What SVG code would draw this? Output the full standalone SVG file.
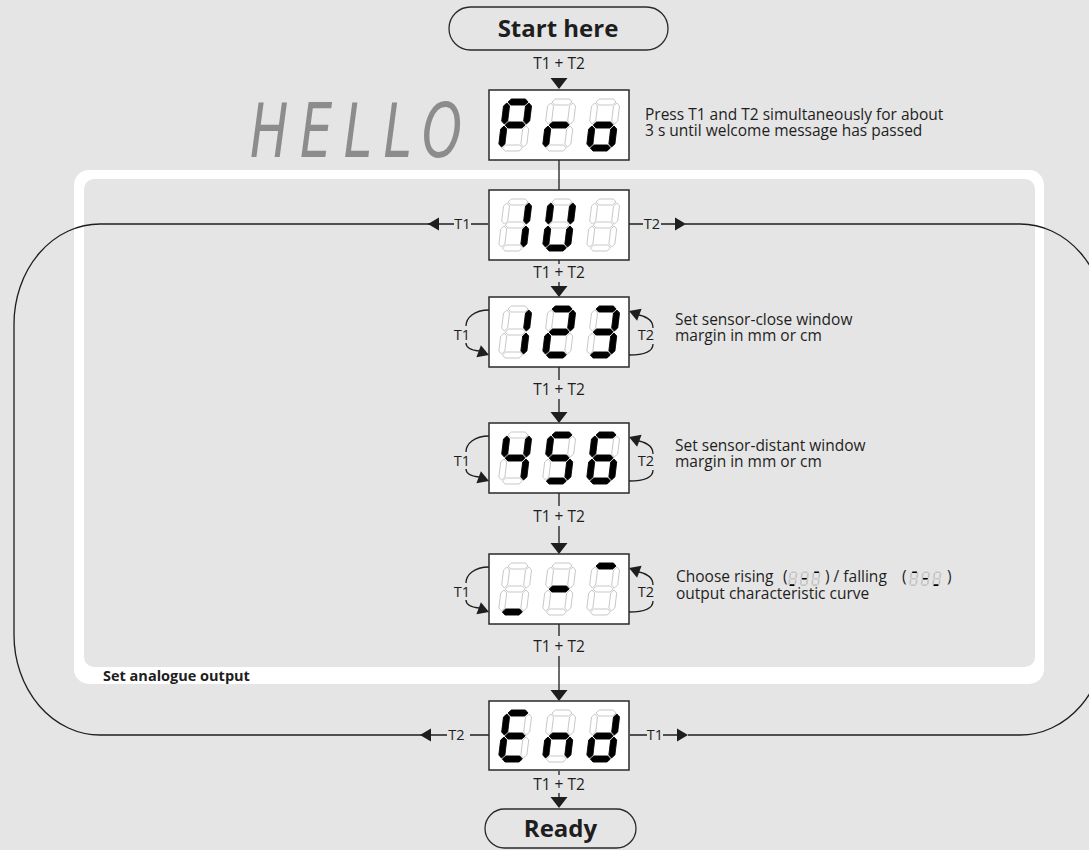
<svg xmlns="http://www.w3.org/2000/svg" xmlns:xlink="http://www.w3.org/1999/xlink" width="1089" height="850" viewBox="0 0 1089 850">
<defs>
<style>
.t{font-family:"Open Sans","Noto Sans","DejaVu Sans",sans-serif;fill:#1e1e1e}
.desc{font-size:15.5px}
.lbl{font-size:15.5px;text-anchor:middle}
.sl{font-size:14.5px;text-anchor:middle}
.bold{font-weight:700}
.ln{stroke:#1e1e1e;stroke-width:1.3;fill:none}
.box{fill:#fff;stroke:#2a2a2a;stroke-width:1.5}
.pill{fill:#e5e5e5;stroke:#2a2a2a;stroke-width:1.3}
.ah{fill:#1e1e1e}
.on{fill:#000;stroke:#000;stroke-width:0.8;stroke-linejoin:round}
.off{fill:#fff;stroke:#c2c2c2;stroke-width:0.9}
.mon{fill:#000}
.moff{fill:#c4c4c4}
</style>
<polygon id="sa" points="4,-49 7,-52 21,-52 24,-49 21,-46 7,-46"/>
<polygon id="sg" points="4,-26 7,-29 21,-29 24,-26 21,-23 7,-23"/>
<polygon id="sd" points="4,-3 7,-6 21,-6 24,-3 21,0 7,0"/>
<polygon id="sf" points="3,-48 6,-45 6,-30 3,-27 0,-30 0,-45"/>
<polygon id="sb" points="25,-48 28,-45 28,-30 25,-27 22,-30 22,-45"/>
<polygon id="se" points="3,-25 6,-22 6,-7 3,-4 0,-7 0,-22"/>
<polygon id="sc" points="25,-25 28,-22 28,-7 25,-4 22,-7 22,-22"/>
<g id="d8"><use href="#sa"/><use href="#sb"/><use href="#sc"/><use href="#sd"/><use href="#se"/><use href="#sf"/><use href="#sg"/></g>
<path id="aD" d="M-8.5,-11H8.5L0,0Z"/>
<path id="aL" d="M0,0L11,-6.5V6.5Z"/>
<path id="aR" d="M0,0L-11,-6.5V6.5Z"/>
</defs>

<rect width="1089" height="850" fill="#e5e5e5"/>

<g id="frame">
<rect x="74" y="170" width="970" height="514" rx="15" fill="#fff"/>
<rect x="84" y="179" width="951" height="488" rx="10" fill="#e5e5e5"/>
<text class="t bold" x="103" y="681" font-size="14.5">Set analogue output</text>
</g>

<g id="connectors">
<g class="ln">
<path d="M559,160V190"/>
<path d="M559,260V264M559,282V287"/>
<path d="M559,367V380M559,399V413"/>
<path d="M559,493V506M559,526V543"/>
<path d="M559,624V636M559,656V690"/>
<path d="M559,771V775M559,793V797"/>
<path d="M471,224H488M428,224H454"/>
<path d="M438,224H100A86,100 0 0 0 14,324V635A86,100 0 0 0 100,735H430"/>
<path d="M430,735H447M470,735H489"/>
<path d="M629,224H643M661,224H676"/>
<path d="M685,224H1020A86,100 0 0 1 1106,324V635A86,100 0 0 1 1020,735H688"/>
<path d="M630,735H647M663,735H678"/>
</g>
<g class="ah">
<use href="#aD" transform="translate(559,89)"/>
<use href="#aD" transform="translate(559,297)"/>
<use href="#aD" transform="translate(559,423)"/>
<use href="#aD" transform="translate(559,554)"/>
<use href="#aD" transform="translate(559,701)"/>
<use href="#aD" transform="translate(559,808)"/>
<use href="#aL" transform="translate(428,224)"/>
<use href="#aR" transform="translate(686,224)"/>
<use href="#aL" transform="translate(420,735)"/>
<use href="#aR" transform="translate(688,735)"/>
</g>
<text class="t lbl" x="559" y="69">T1 + T2</text>
<text class="t lbl" x="559" y="278">T1 + T2</text>
<text class="t lbl" x="559" y="395">T1 + T2</text>
<text class="t lbl" x="559" y="522">T1 + T2</text>
<text class="t lbl" x="559" y="652">T1 + T2</text>
<text class="t lbl" x="559" y="790">T1 + T2</text>
<text class="t sl" x="462.5" y="229">T1</text>
<text class="t sl" x="652" y="229">T2</text>
<text class="t sl" x="456.5" y="740">T2</text>
<text class="t sl" x="655" y="740">T1</text>
<g id="loops123">
<path class="ln" d="M489,310C474,310 466,318 466,326M466,343C466,347 470,350 479,351"/>
<path class="ln" d="M639,315C648,317 653,322 653,328M653,344C653,351 646,355 629,355"/>
<use class="ah" href="#aR" transform="translate(489,355) rotate(20)"/>
<use class="ah" href="#aL" transform="translate(629,311) rotate(20)"/>
<text class="t sl" x="462" y="340">T1</text>
<text class="t sl" x="646" y="340">T2</text>
</g>
<g id="loops456">
<path class="ln" d="M489,436C474,436 466,444 466,452M466,469C466,473 470,476 479,477"/>
<path class="ln" d="M639,441C648,443 653,448 653,454M653,470C653,477 646,481 629,481"/>
<use class="ah" href="#aR" transform="translate(489,481) rotate(20)"/>
<use class="ah" href="#aL" transform="translate(629,437) rotate(20)"/>
<text class="t sl" x="462" y="466">T1</text>
<text class="t sl" x="646" y="466">T2</text>
</g>
<g id="loopsCurve">
<path class="ln" d="M489,567C474,567 466,575 466,583M466,600C466,604 470,607 479,608"/>
<path class="ln" d="M639,572C648,574 653,579 653,585M653,601C653,608 646,612 629,612"/>
<use class="ah" href="#aR" transform="translate(489,612) rotate(20)"/>
<use class="ah" href="#aL" transform="translate(629,568) rotate(20)"/>
<text class="t sl" x="462" y="597">T1</text>
<text class="t sl" x="646" y="597">T2</text>
</g>
</g>

<g id="start">
<rect class="pill" x="449" y="7" width="219" height="43" rx="21.5"/>
<text class="t bold" x="558" y="37" font-size="24" text-anchor="middle">Start here</text>
</g>

<g id="hello">
<text transform="translate(250,157) scale(0.68,1)" font-family="DejaVu Sans" font-size="75" font-style="oblique" fill="#8c8c8c" textLength="312" lengthAdjust="spacing">HELLO</text>
</g>

<g id="pro">
<rect class="box" x="489" y="90" width="140" height="70"/>
<g transform="translate(498,151) skewX(-7)"><use class="off" href="#d8"/><use class="on" href="#sa"/><use class="on" href="#sb"/><use class="on" href="#sf"/><use class="on" href="#sg"/><use class="on" href="#se"/></g>
<g transform="translate(542,151) skewX(-7)"><use class="off" href="#d8"/><use class="on" href="#se"/><use class="on" href="#sg"/></g>
<g transform="translate(586,151) skewX(-7)"><use class="off" href="#d8"/><use class="on" href="#sc"/><use class="on" href="#sd"/><use class="on" href="#se"/><use class="on" href="#sg"/></g>
<text class="t desc" x="645" y="120">Press T1 and T2 simultaneously for about</text>
<text class="t desc" x="645" y="136">3 s until welcome message has passed</text>
</g>

<g id="iu">
<rect class="box" x="489" y="190" width="140" height="70"/>
<g transform="translate(498,251) skewX(-7)"><use class="off" href="#d8"/><use class="on" href="#sb"/><use class="on" href="#sc"/></g>
<g transform="translate(542,251) skewX(-7)"><use class="off" href="#d8"/><use class="on" href="#sb"/><use class="on" href="#sc"/><use class="on" href="#sd"/><use class="on" href="#se"/><use class="on" href="#sf"/></g>
<g transform="translate(586,251) skewX(-7)"><use class="off" href="#d8"/></g>
</g>

<g id="n123">
<rect class="box" x="489" y="297" width="140" height="70"/>
<g transform="translate(498,358) skewX(-7)"><use class="off" href="#d8"/><use class="on" href="#sb"/><use class="on" href="#sc"/></g>
<g transform="translate(542,358) skewX(-7)"><use class="off" href="#d8"/><use class="on" href="#sa"/><use class="on" href="#sb"/><use class="on" href="#sg"/><use class="on" href="#se"/><use class="on" href="#sd"/></g>
<g transform="translate(586,358) skewX(-7)"><use class="off" href="#d8"/><use class="on" href="#sa"/><use class="on" href="#sb"/><use class="on" href="#sg"/><use class="on" href="#sc"/><use class="on" href="#sd"/></g>
<text class="t desc" x="675" y="325">Set sensor-close window</text>
<text class="t desc" x="675" y="341">margin in mm or cm</text>
</g>

<g id="n456">
<rect class="box" x="489" y="423" width="140" height="70"/>
<g transform="translate(498,484) skewX(-7)"><use class="off" href="#d8"/><use class="on" href="#sf"/><use class="on" href="#sg"/><use class="on" href="#sb"/><use class="on" href="#sc"/></g>
<g transform="translate(542,484) skewX(-7)"><use class="off" href="#d8"/><use class="on" href="#sa"/><use class="on" href="#sf"/><use class="on" href="#sg"/><use class="on" href="#sc"/><use class="on" href="#sd"/></g>
<g transform="translate(586,484) skewX(-7)"><use class="off" href="#d8"/><use class="on" href="#sa"/><use class="on" href="#sf"/><use class="on" href="#sg"/><use class="on" href="#se"/><use class="on" href="#sc"/><use class="on" href="#sd"/></g>
<text class="t desc" x="675" y="451">Set sensor-distant window</text>
<text class="t desc" x="675" y="467">margin in mm or cm</text>
</g>

<g id="curve">
<rect class="box" x="489" y="554" width="140" height="70"/>
<g transform="translate(498,615) skewX(-7)"><use class="off" href="#d8"/><use class="on" href="#sd"/></g>
<g transform="translate(542,615) skewX(-7)"><use class="off" href="#d8"/><use class="on" href="#sg"/></g>
<g transform="translate(586,615) skewX(-7)"><use class="off" href="#d8"/><use class="on" href="#sa"/></g>
<text class="t desc" y="582"><tspan x="676">Choose rising</tspan><tspan x="783">(</tspan><tspan x="825">) / falling</tspan><tspan x="902">(</tspan><tspan x="947">)</tspan></text>
<text class="t desc" x="676" y="599">output characteristic curve</text>
<g transform="translate(788,586) scale(0.28) skewX(-7)"><use class="moff" href="#d8"/><use class="mon" href="#sd"/></g>
<g transform="translate(799.5,586) scale(0.28) skewX(-7)"><use class="moff" href="#d8"/><use class="mon" href="#sg"/></g>
<g transform="translate(811,586) scale(0.28) skewX(-7)"><use class="moff" href="#d8"/><use class="mon" href="#sa"/></g>
<g transform="translate(909,586) scale(0.28) skewX(-7)"><use class="moff" href="#d8"/><use class="mon" href="#sa"/></g>
<g transform="translate(920.5,586) scale(0.28) skewX(-7)"><use class="moff" href="#d8"/><use class="mon" href="#sg"/></g>
<g transform="translate(932,586) scale(0.28) skewX(-7)"><use class="moff" href="#d8"/><use class="mon" href="#sd"/></g>
</g>

<g id="end">
<rect class="box" x="489" y="701" width="140" height="69"/>
<g transform="translate(498,762) skewX(-7)"><use class="off" href="#d8"/><use class="on" href="#sa"/><use class="on" href="#sf"/><use class="on" href="#sg"/><use class="on" href="#se"/><use class="on" href="#sd"/></g>
<g transform="translate(542,762) skewX(-7)"><use class="off" href="#d8"/><use class="on" href="#se"/><use class="on" href="#sg"/><use class="on" href="#sc"/></g>
<g transform="translate(586,762) skewX(-7)"><use class="off" href="#d8"/><use class="on" href="#sb"/><use class="on" href="#sc"/><use class="on" href="#sd"/><use class="on" href="#se"/><use class="on" href="#sg"/></g>
</g>

<g id="ready">
<rect class="pill" x="485" y="809" width="151" height="39" rx="19.5"/>
<text class="t bold" x="560.5" y="837" font-size="24" text-anchor="middle">Ready</text>
</g>
</svg>
